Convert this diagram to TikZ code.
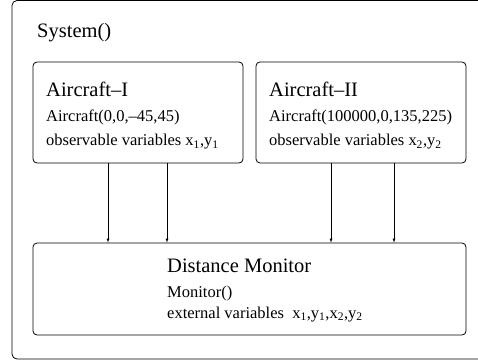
\documentclass[tikz,border=0pt]{standalone}
\usepackage{fontspec}
\setmainfont{Liberation Serif}

\tikzset{
  block/.style={draw, rounded corners=4pt, line width=0.8pt, inner sep=0pt},
  heading/.style={anchor=base west, inner sep=0pt, font=\fontsize{20.5}{24}\selectfont},
  detail/.style={anchor=base west, inner sep=0pt, font=\fontsize{16.5}{20}\selectfont},
}

\begin{document}
\begin{tikzpicture}[x=1pt, y=-1pt, >=latex]
    \clip (0,0) rectangle (478,363);
    % outer system frame
    \draw[rounded corners=5pt, line width=0.8pt] (12,0.5) rectangle (500,359);
    \node[heading] (sys) at (37,37.5) {System()};

    \node[block, minimum width=210pt, minimum height=101pt] (ac1) at (138,112.5) {};
    \node[heading] (ac1name) at (46,96.3) {Aircraft–I};
    \node[detail] (ac1ctor) at (46,121.7) {Aircraft(0,0,–45,45)};
    \node[detail] (ac1vars) at (46,146) {observable variables x\textsubscript{1},y\textsubscript{1}};

    \node[block, minimum width=210pt, minimum height=101pt] (ac2) at (361,112.5) {};
    \node[heading] (ac2name) at (269,96.3) {Aircraft–II};
    \node[detail] (ac2ctor) at (269,121.7) {Aircraft(100000,0,135,225)};
    \node[detail] (ac2vars) at (269,146) {observable variables x\textsubscript{2},y\textsubscript{2}};

    \node[block, minimum width=433pt, minimum height=92pt] (mon) at (249.5,289) {};
    \node[heading] (monname) at (167,272) {Distance Monitor};
    \node[detail] (monctor) at (167,297) {Monitor()};
    \node[detail] (monvars) at (167,318) {external variables\ \ x\textsubscript{1},y\textsubscript{1},x\textsubscript{2},y\textsubscript{2}};

    % observable variables into the monitor
    \foreach \xx/\src in {108/ac1, 167/ac1, 331/ac2, 394/ac2} {
        \coordinate (tap) at (\xx,0);
        \draw[->] (\src.south -| tap) -- (mon.north -| tap);
    }
\end{tikzpicture}
\end{document}
